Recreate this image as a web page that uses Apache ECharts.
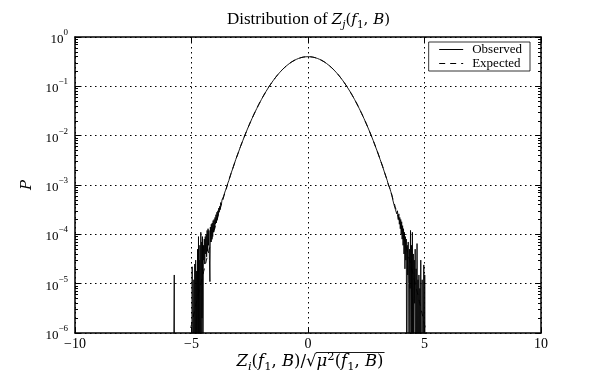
<!DOCTYPE html>
<html>
<head>
<meta charset="utf-8">
<script src="https://cdn.jsdelivr.net/npm/echarts@6/dist/echarts.min.js"></script>
<style>html,body{margin:0;padding:0;background:#fff}#c{width:600px;height:371px}</style>
</head>
<body>
<div id="c"></div>
<script>
// ---- data ----
var xTicks = [-10, -5, 0, 5, 10];
var yTicks = [1e-6, 1e-5, 1e-4, 1e-3, 1e-2, 1e-1, 1];
var ZERO = 1e-9; // empty bins (fall below the axis)

var expX = [-5.6,-5.4,-5.2,-5.0,-4.8,-4.6,-4.4,-4.2,-4.0,-3.8,-3.6,-3.4,-3.2,-3.0,-2.8,-2.6,-2.4,-2.2,-2.0,-1.8,-1.6,-1.4,-1.2,-1.0,-0.8,-0.6,-0.4,-0.2,0,
            0.2,0.4,0.6,0.8,1.0,1.2,1.4,1.6,1.8,2.0,2.2,2.4,2.6,2.8,3.0,3.2,3.4,3.6,3.8,4.0,4.2,4.4,4.6,4.8,5.0,5.2,5.4,5.6];
var expY = [6.2e-8,1.86e-7,5.36e-7,1.487e-6,3.961e-6,1.014e-5,2.494e-5,5.894e-5,1.338e-4,2.919e-4,6.12e-4,1.232e-3,2.384e-3,4.432e-3,7.92e-3,0.01358,0.02239,0.03547,0.05399,0.07895,0.11092,0.14973,0.19419,0.24197,0.28969,0.33322,0.36827,0.39104,0.39894,
            0.39104,0.36827,0.33322,0.28969,0.24197,0.19419,0.14973,0.11092,0.07895,0.05399,0.03547,0.02239,0.01358,7.92e-3,4.432e-3,2.384e-3,1.232e-3,6.12e-4,2.919e-4,1.338e-4,5.894e-5,2.494e-5,1.014e-5,3.961e-6,1.487e-6,5.36e-7,1.86e-7,6.2e-8];

var obsX = [-5.80,-5.76,-5.74,-5.72,-5.00,-4.97,-4.95,-4.93,-4.90,-4.88,-4.86,-4.84,-4.82,-4.80,-4.78,-4.76,-4.74,-4.72,-4.70,-4.69,-4.67,-4.65,-4.64,-4.62,-4.60,-4.58,-4.56,-4.55,-4.53,-4.51,-4.49,
            -4.47,-4.45,-4.43,-4.41,-4.39,-4.37,-4.35,-4.33,-4.31,-4.29,-4.27,-4.25,-4.23,-4.21,-4.19,-4.17,-4.15,-4.13,-4.11,-4.09,-4.07,-4.05,-4.03,-4.01,-3.99,-3.97,-3.95,-3.93,-3.91,-3.89,-3.87,-3.85,-3.83,-3.81,-3.79,-3.77,-3.75,-3.72,-3.69,-3.66,-3.63,-3.60,-3.55,-3.50,-3.45,
            -3.4,-3.3,-3.2,-3.1,-3.0,-2.9,-2.8,-2.7,-2.6,-2.5,-2.4,-2.3,-2.2,-2.1,-2.0,-1.9,-1.8,-1.7,-1.6,-1.5,-1.4,-1.3,-1.2,-1.1,-1.0,-0.9,-0.8,-0.7,-0.6,-0.5,-0.4,-0.3,-0.2,-0.1,
            0.0,0.1,0.2,0.3,0.4,0.5,0.6,0.7,0.8,0.9,1.0,1.1,1.2,1.3,1.4,1.5,1.6,1.7,1.8,1.9,2.0,2.1,2.2,2.3,2.4,2.5,2.6,2.7,2.8,2.9,3.0,3.1,3.2,3.3,3.4,
            3.45,3.50,3.55,3.60,3.63,3.66,3.69,3.72,3.75,3.78,3.81,3.84,3.87,3.90,3.92,3.94,3.96,3.98,4.00,4.02,4.04,4.06,4.08,4.10,4.12,4.14,4.16,4.18,4.20,4.22,4.24,4.26,4.28,4.30,4.32,4.34,4.36,4.38,4.40,4.42,4.44,4.46,4.48,
            4.50,4.52,4.54,4.56,4.58,4.60,4.62,4.64,4.66,4.68,4.70,4.72,4.74,4.76,4.78,4.80,4.82,4.84,4.86,4.88,4.90,4.92,4.94,4.96,4.97,4.99,5.01,5.03,5.05,5.08];
var obsY = [ZERO,ZERO,1.5e-5,ZERO,ZERO,2.2e-5,ZERO,ZERO,1.2e-5,ZERO,2.5e-5,ZERO,3e-5,ZERO,1.8e-5,ZERO,5e-5,ZERO,9e-5,ZERO,3e-5,ZERO,6e-5,ZERO,1.1e-4,ZERO,7e-5,2e-6,9e-5,ZERO,6e-5,
            3e-5,8e-5,2.5e-5,9e-5,4e-5,1.0e-4,3.5e-5,1.2e-4,4.5e-5,1.3e-4,6e-5,1.2e-4,3e-5,1.1e-5,1.4e-4,7e-5,1.6e-4,8e-5,1.7e-4,9e-5,1.9e-4,1.1e-4,2.0e-4,1.3e-4,2.2e-4,1.6e-4,2.5e-4,1.7e-4,2.8e-4,2.0e-4,3.0e-4,2.4e-4,3.4e-4,2.8e-4,3.7e-4,3.2e-4,4.4e-4,3.9e-4,5.0e-4,4.6e-4,5.8e-4,6.0e-4,7.6e-4,8.6e-4,1.06e-3,
            1.22e-3,1.74e-3,2.36e-3,3.30e-3,4.40e-3,5.97e-3,7.90e-3,0.01040,0.01361,0.01752,0.02242,0.02832,0.03548,0.04403,0.05395,0.06562,0.07893,0.09405,0.1109,0.1295,0.1497,0.1714,0.1942,0.2179,0.2420,0.2661,0.2897,0.3123,0.3332,0.3521,0.3683,0.3814,0.3910,0.3970,
            0.3989,0.3970,0.3910,0.3814,0.3683,0.3521,0.3332,0.3123,0.2897,0.2661,0.2420,0.2179,0.1942,0.1714,0.1497,0.1295,0.1109,0.0940,0.0790,0.0656,0.0540,0.0440,0.0355,0.0283,0.0224,0.0175,0.0136,0.0104,0.00795,0.00592,0.00445,0.00325,0.00240,0.00170,1.24e-3,
            1.0e-3,9.0e-4,7.4e-4,6.3e-4,5.2e-4,5.0e-4,4.0e-4,4.2e-4,3.2e-4,3.5e-4,2.6e-4,3.0e-4,2.0e-4,2.6e-4,1.6e-4,2.2e-4,1.3e-4,2.0e-4,1.0e-4,1.8e-4,8e-5,1.5e-4,6e-5,1.3e-4,4e-5,1.1e-4,2e-5,9e-5,3e-5,8e-5,ZERO,6e-5,1.5e-5,7e-5,1.0e-5,ZERO,5e-5,8e-6,1.2e-4,ZERO,6e-5,ZERO,1.1e-4,
            ZERO,4e-5,ZERO,3e-5,4e-6,5e-5,ZERO,2e-5,ZERO,6.5e-5,ZERO,1.2e-5,ZERO,1.5e-5,ZERO,8e-6,ZERO,3e-5,ZERO,ZERO,1.2e-5,ZERO,ZERO,ZERO,2.4e-5,ZERO,1.5e-5,ZERO,ZERO,ZERO];

function pairs(xs, ys){ var o=[]; for (var i=0;i<xs.length;i++) o.push([xs[i], ys[i]]); return o; }

var SERIF = '"Liberation Serif","DejaVu Serif",serif';
var MATH = '"DejaVu Serif",serif';
var chart = echarts.init(document.getElementById('c'), null, {renderer:'canvas'});

function powLabel(v){
  var e = Math.round(Math.log10(v));
  return '{b|10}{s|' + (e < 0 ? '\u2212' + (-e) : e) + '}';
}
var supRich = {
  b:{fontFamily:SERIF,fontSize:13,color:'#000',verticalAlign:'bottom',lineHeight:18},
  s:{fontFamily:SERIF,fontSize:9,color:'#000',verticalAlign:'top',lineHeight:18}
};
function makeRich(ft, fm, fs){
  return {
    t:{fontFamily:SERIF,fontSize:ft,color:'#000',lineHeight:22,verticalAlign:'middle'},
    n:{fontFamily:MATH,fontSize:fm,color:'#000',lineHeight:22,verticalAlign:'middle'},
    i:{fontFamily:MATH,fontSize:fm,fontStyle:'italic',color:'#000',lineHeight:22,verticalAlign:'middle'},
    sub:{fontFamily:MATH,fontSize:fs,fontStyle:'italic',color:'#000',lineHeight:22,verticalAlign:'bottom'},
    subn:{fontFamily:MATH,fontSize:fs,color:'#000',lineHeight:22,verticalAlign:'bottom'},
    sup:{fontFamily:MATH,fontSize:fs,color:'#000',lineHeight:22,verticalAlign:'top'}
  };
}
var titleRich = makeRich(17, 15, 10.5);
var FM = 16.5, FS = 11.5;
var xRich = makeRich(17, FM, FS);
var frameLine = {show:true, onZero:false, lineStyle:{color:'#000', width:1.5}};
var gridDot = {show:true, lineStyle:{color:'#000', type:[1.5,3.5], width:1}};

// measure the part under the square-root bar
var mc = document.createElement('canvas').getContext('2d');
function w(txt, size, italic){ mc.font = (italic?'italic ':'') + size + 'px ' + MATH; return mc.measureText(txt).width; }
var radW = w('\u03BC',FM,true) + w('2',FS,false) + w('(',FM,false) + w('f',FM,true) + w('1',FS,false) + w(', ',FM,false) + w('B',FM,true) + w(')',FM,false);
var leftW = w('Z',FM,true) + w('i',FS,true) + w('(',FM,false) + w('f',FM,true) + w('1',FS,false) + w(', ',FM,false) + w('B',FM,true) + w(')/\u221A',FM,false);
var totalW = leftW + radW;
var xMid = 310, xStart = xMid - totalW/2, xRad = xStart + leftW;
var yTitle = 362;

chart.setOption({
  animation:false,
  backgroundColor:'#fff',
  legend:{
    right:70, top:42, orient:'vertical',
    data:['Observed','Expected'],
    itemWidth:24, itemHeight:10, itemGap:1,
    padding:[1,8,1,10],
    borderColor:'#000', borderWidth:0.8, borderRadius:0,
    backgroundColor:'#fff',
    itemStyle:{color:'transparent', borderWidth:0, opacity:0},
    lineStyle:{width:1},
    textStyle:{fontFamily:SERIF, fontSize:13, color:'#000', lineHeight:12, padding:[0,0,0,4]}
  },
  grid:{left:75, right:59, top:37, bottom:38, containLabel:false},
  xAxis:[{
    type:'value', min:-10, max:10, interval:5, position:'bottom',
    axisLine:frameLine,
    axisTick:{show:true, inside:true, length:5, lineStyle:{color:'#000'}},
    splitLine:gridDot,
    axisLabel:{fontFamily:SERIF, fontSize:14, color:'#000', margin:4,
      formatter:function(v){ return v<0 ? '\u2212'+(-v) : String(v); }}
  },{
    type:'value', min:-10, max:10, interval:5, position:'top',
    axisLine:frameLine,
    axisTick:{show:true, inside:true, length:5, lineStyle:{color:'#000'}},
    splitLine:{show:false}, axisLabel:{show:false}
  }],
  yAxis:[{
    type:'log', logBase:10, min:1e-6, max:1, splitNumber:6,
    axisLine:frameLine,
    axisTick:{show:true, inside:true, length:6, lineStyle:{color:'#000'}},
    minorTick:{show:true, splitNumber:9, length:3, lineStyle:{color:'#000'}},
    splitLine:gridDot,
    axisLabel:{margin:7, formatter:powLabel, rich:supRich},
    name:'P', nameLocation:'middle', nameGap:35, nameRotate:90,
    nameTextStyle:{fontFamily:MATH, fontSize:15, fontStyle:'italic', color:'#000'}
  },{
    type:'log', logBase:10, min:1e-6, max:1, splitNumber:6, position:'right',
    axisLine:frameLine,
    axisTick:{show:true, inside:true, length:6, lineStyle:{color:'#000'}},
    minorTick:{show:true, splitNumber:9, length:3, lineStyle:{color:'#000'}},
    splitLine:{show:false}, axisLabel:{show:false}
  }],
  series:[{
    name:'Observed', type:'line', xAxisIndex:0, yAxisIndex:0,
    data:pairs(obsX, obsY), symbol:'none', showSymbol:false, clip:true,
    lineStyle:{color:'#000', width:0.9},
    itemStyle:{color:'#000'}
  },{
    name:'Expected', type:'line', xAxisIndex:0, yAxisIndex:0,
    data:pairs(expX, expY), symbol:'none', showSymbol:false, smooth:true, clip:true,
    lineStyle:{color:'#000', width:1, type:[6,5]},
    itemStyle:{color:'#000'}
  }],
  graphic:[{
    type:'text', silent:true, x:308.5, y:20,
    style:{
      text:'{t|Distribution of }{i|Z}{sub|j}{n|(}{i|f}{subn|1}{n|, }{i|B}{n|)}',
      align:'center', verticalAlign:'middle', rich:titleRich,
      fontFamily:SERIF, fontSize:17, fill:'#000'
    }
  },{
    type:'text', silent:true, x:xRad, y:yTitle,
    style:{
      text:'{i|Z}{sub|i}{n|(}{i|f}{subn|1}{n|, }{i|B}{n|)/\u221A}',
      align:'right', verticalAlign:'middle', rich:xRich,
      fontFamily:MATH, fontSize:FM, fill:'#000'
    }
  },{
    type:'text', silent:true, x:xRad, y:yTitle,
    style:{
      text:'{i|\u03BC}{sup|2}{n|(}{i|f}{subn|1}{n|, }{i|B}{n|)}',
      align:'left', verticalAlign:'middle', rich:xRich,
      fontFamily:MATH, fontSize:FM, fill:'#000'
    }
  },{
    type:'line', silent:true,
    shape:{x1:xRad - 0.5, y1:yTitle - 9.5, x2:xRad + radW + 1, y2:yTitle - 9.5},
    style:{stroke:'#000', lineWidth:0.9}
  }]
});
</script>
</body>
</html>
